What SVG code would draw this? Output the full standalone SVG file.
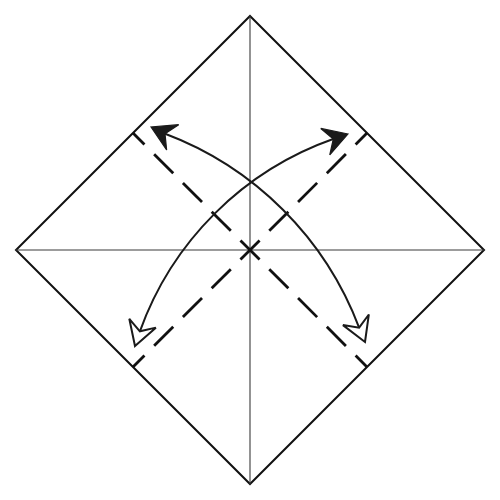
<svg xmlns="http://www.w3.org/2000/svg" xmlns:xlink="http://www.w3.org/1999/xlink" width="500" height="500" viewBox="0 0 500 500">
  <style>
    .paper { fill: #ffffff; stroke: #111111; stroke-width: 2; stroke-linejoin: miter; }
    .crease { stroke: #3a3a3a; stroke-width: 1.1; fill: none; }
    .valley { stroke: #111111; stroke-width: 2.8; fill: none; stroke-dasharray: 27 13.7; stroke-dashoffset: 10.8; }
    .arc { stroke: #1a1a1a; stroke-width: 2; fill: none; }
    .filled { fill: #1a1a1a; stroke: #1a1a1a; stroke-width: 1.2; stroke-linejoin: miter; }
    .open { fill: #ffffff; stroke: #1a1a1a; stroke-width: 2; stroke-linejoin: miter; }
  </style>
  <defs>
    <path id="head" d="M0,0 L-24,-14 L-15.5,0 L-24,14 Z"/>
  </defs>
  <rect width="500" height="500" fill="#ffffff"/>
  <g id="paper">
    <polygon class="paper" points="250,16 484,250 250,484 16,250"/>
  </g>
  <g id="creases">
    <line class="crease" x1="250" y1="16" x2="250" y2="484"/>
    <line class="crease" x1="16" y1="250" x2="484" y2="250"/>
  </g>
  <g id="valley-folds">
    <line class="valley" x1="133" y1="133" x2="367" y2="367"/>
    <line class="valley" x1="133" y1="367" x2="367" y2="133"/>
  </g>
  <g id="connectors">
    <g id="arrow-a">
      <path class="arc" d="M139.7,331.8 A318,318 0 0 1 333.8,138.8"/>
      <use xlink:href="#head" href="#head" class="open" transform="translate(135,346) rotate(108.4)"/>
      <use xlink:href="#head" href="#head" class="filled" transform="translate(348,134) rotate(-18.7)"/>
    </g>
    <g id="arrow-b">
      <path class="arc" d="M164.5,133.5 A333,333 0 0 1 359.3,328.1"/>
      <use xlink:href="#head" href="#head" class="filled" transform="translate(151,127) rotate(205.5)"/>
      <use xlink:href="#head" href="#head" class="open" transform="translate(365,342) rotate(67.7)"/>
    </g>
  </g>
</svg>
